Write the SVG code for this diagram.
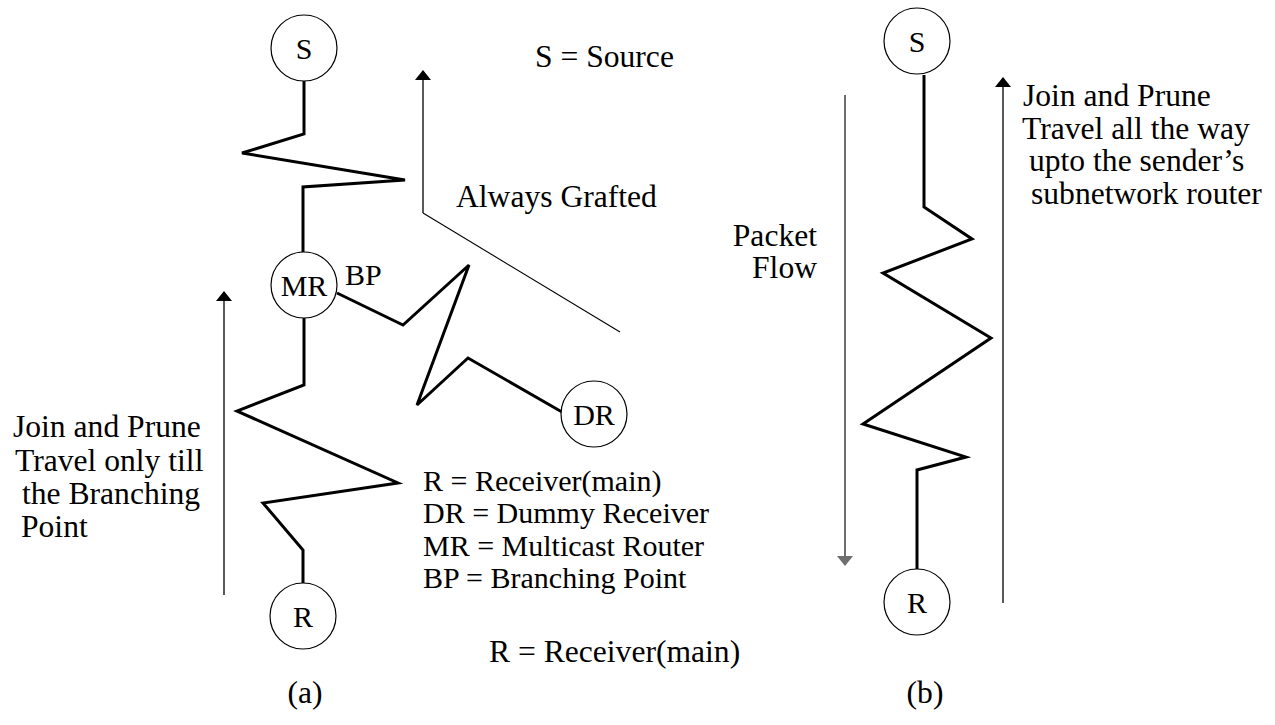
<svg xmlns="http://www.w3.org/2000/svg" width="1275" height="725" viewBox="0 0 1275 725">
<defs>
<marker id="ah" markerWidth="10" markerHeight="16" refX="8" refY="5" orient="auto" markerUnits="userSpaceOnUse" viewBox="0 0 10 10" preserveAspectRatio="none">
<path d="M0,0 L10,5 L0,10 z" fill="#000"/>
</marker>
<marker id="ahg" markerWidth="10" markerHeight="16" refX="8" refY="5" orient="auto" markerUnits="userSpaceOnUse" viewBox="0 0 10 10" preserveAspectRatio="none">
<path d="M0,0 L10,5 L0,10 z" fill="#6e6e6e"/>
</marker>
</defs>
<style>
.c{text-anchor:middle}
.big{font-size:31.6px}
.node circle{fill:#fff;stroke:#000;stroke-width:1.2}
.zig{fill:none;stroke:#000;stroke-width:3;stroke-linejoin:miter}
.arr{fill:none;stroke:#000;stroke-width:1.3}
.garr{fill:none;stroke:#6e6e6e;stroke-width:2}
.thin{fill:none;stroke:#000;stroke-width:1.1}
</style>
<rect width="1275" height="725" fill="#fff"/>
<g id="connectors">
<polyline class="zig" points="304,81 304,134 242,153 405,180 303,187 303,252"/>
<polyline class="zig" points="304,318 304,385 237,411 398,483 263,503 303,550 303,583"/>
<polyline class="zig" points="337,293 403,325 469,265 417,405 468,358 562,412"/>
<polyline class="arr" points="423,213 423,72" marker-end="url(#ah)"/>
<line class="thin" x1="423" y1="213" x2="620" y2="332"/>
<line class="arr" x1="224" y1="595" x2="224" y2="293" marker-end="url(#ah)"/>
<polyline class="zig" points="924,75 924,207 972,239 883,273 991,338 863,424 966,457 917,470 917,569"/>
<line class="garr" x1="845" y1="95" x2="845" y2="564" marker-end="url(#ahg)"/>
<line class="arr" x1="1003" y1="603" x2="1003" y2="79" marker-end="url(#ah)"/>
</g>
<g font-family="Liberation Serif, Times New Roman, serif" font-size="30" fill="#000">
<g id="node-S-a" class="node"><circle cx="304" cy="48" r="33"/><text class="c" x="304" y="59">S</text></g>
<g id="node-MR" class="node"><circle cx="304" cy="285" r="33"/><text class="c" x="304" y="296">MR</text></g>
<g id="node-DR" class="node"><circle cx="594" cy="414" r="33"/><text class="c" x="594" y="425">DR</text></g>
<g id="node-R-a" class="node"><circle cx="303" cy="616" r="33"/><text class="c" x="303" y="627">R</text></g>
<g id="node-S-b" class="node"><circle cx="917" cy="41" r="33"/><text class="c" x="917" y="52">S</text></g>
<g id="node-R-b" class="node"><circle cx="917" cy="602" r="33"/><text class="c" x="917" y="613">R</text></g>
<g id="labels">
<text x="345" y="285">BP</text>
<text class="big" x="535" y="67">S = Source</text>
<text class="big" x="456" y="207">Always Grafted</text>
<text x="423" y="491">R = Receiver(main)</text>
<text x="423" y="523">DR = Dummy Receiver</text>
<text x="423" y="556">MR = Multicast Router</text>
<text x="423" y="588">BP = Branching Point</text>
<text class="big" x="489" y="662">R = Receiver(main)</text>
<text class="big" x="13" y="437">Join and Prune</text>
<text class="big" x="15" y="471">Travel only till</text>
<text class="big" x="22" y="504">the Branching</text>
<text class="big" x="21" y="537">Point</text>
<text class="big" x="817" y="246" text-anchor="end">Packet</text>
<text class="big" x="817" y="278" text-anchor="end">Flow</text>
<text class="big" x="1023" y="106">Join and Prune</text>
<text class="big" x="1022" y="139">Travel all the way</text>
<text class="big" x="1029" y="171">upto the sender’s</text>
<text class="big" x="1031" y="204">subnetwork router</text>
<text class="c big" x="305" y="703">(a)</text>
<text class="c big" x="925" y="703">(b)</text>
</g>
</g>
</svg>
